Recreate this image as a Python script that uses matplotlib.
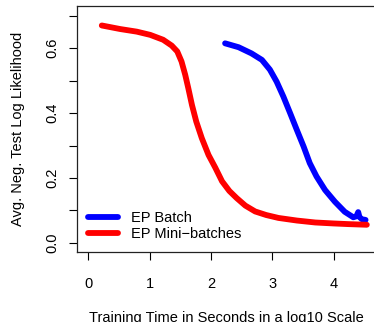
import matplotlib
matplotlib.use("Agg")
import matplotlib.pyplot as plt

plt.rcParams['font.family'] = ['Liberation Sans', 'DejaVu Sans']

# Data (log10 training time, avg neg test log likelihood)
batch_x = [2.23, 2.45, 2.66, 2.83, 2.96, 3.07, 3.18, 3.29, 3.40, 3.51, 3.61, 3.72, 3.86, 4.02,
           4.18, 4.32, 4.37, 4.40, 4.42, 4.46, 4.52]
batch_y = [0.615, 0.603, 0.584, 0.564, 0.534, 0.497, 0.451, 0.400, 0.348, 0.297, 0.246, 0.205,
           0.163, 0.127, 0.096, 0.079, 0.082, 0.095, 0.080, 0.073, 0.071]

mini_x = [0.22, 0.52, 0.79, 1.01, 1.22, 1.36, 1.45, 1.52, 1.58, 1.63, 1.69, 1.76, 1.85, 1.96,
          2.07, 2.18, 2.30, 2.42, 2.56, 2.72, 2.90, 3.10, 3.40, 3.70, 4.00, 4.24, 4.54]
mini_y = [0.670, 0.659, 0.651, 0.641, 0.626, 0.608, 0.590, 0.559, 0.518, 0.477, 0.425, 0.374,
          0.323, 0.271, 0.232, 0.190, 0.160, 0.138, 0.115, 0.097, 0.086, 0.077, 0.069, 0.063,
          0.060, 0.058, 0.056]

labels = ["EP Batch", "EP Mini\u2212batches"]
colors = ["#0000FF", "#FF0000"]

xticks = [0, 1, 2, 3, 4]
yticks = [0.0, 0.1, 0.2, 0.3, 0.4, 0.5, 0.6, 0.7]
ytick_labels = ["0.0", "", "0.2", "", "0.4", "", "0.6", ""]

fig = plt.figure(figsize=(3.74, 3.22), dpi=100)
ax = fig.add_axes([76.7 / 374, 1 - 251.7 / 322, (376 - 76.7) / 374, (251.7 - 6) / 322])

lw = 4.2
ax.plot(batch_x, batch_y, color=colors[0], lw=lw, solid_capstyle='round',
        solid_joinstyle='round', label=labels[0])
ax.plot(mini_x, mini_y, color=colors[1], lw=lw, solid_capstyle='round',
        solid_joinstyle='round', label=labels[1])

ax.set_xlim(-0.189, 4.69)
ax.set_ylim(-0.027, 0.730)
ax.set_xticks(xticks)
ax.set_xticklabels([str(t) for t in xticks])
ax.set_yticks(yticks)
ax.set_yticklabels(ytick_labels, rotation=90, va='center')

fs = 10.5
ax.tick_params(axis='both', direction='out', length=5.8, width=0.8, color='black',
               labelsize=fs, labelcolor='black')
ax.tick_params(axis='x', pad=12.5)
ax.tick_params(axis='y', pad=6.5)
for s in ax.spines.values():
    s.set_color('#222222')
    s.set_linewidth(0.9)

ax.set_xlabel("Training Time in Seconds in a log10 Scale", fontsize=fs, labelpad=14)
ax.set_ylabel("Avg. Neg. Test Log Likelihood", fontsize=fs, labelpad=14.5)

leg = ax.legend(loc='lower left', bbox_to_anchor=(0.005, 0.0), frameon=False,
                fontsize=fs, handlelength=2.0, handletextpad=0.9, labelspacing=0.15,
                borderaxespad=0.3)

fig.savefig("out.png", dpi=100)
